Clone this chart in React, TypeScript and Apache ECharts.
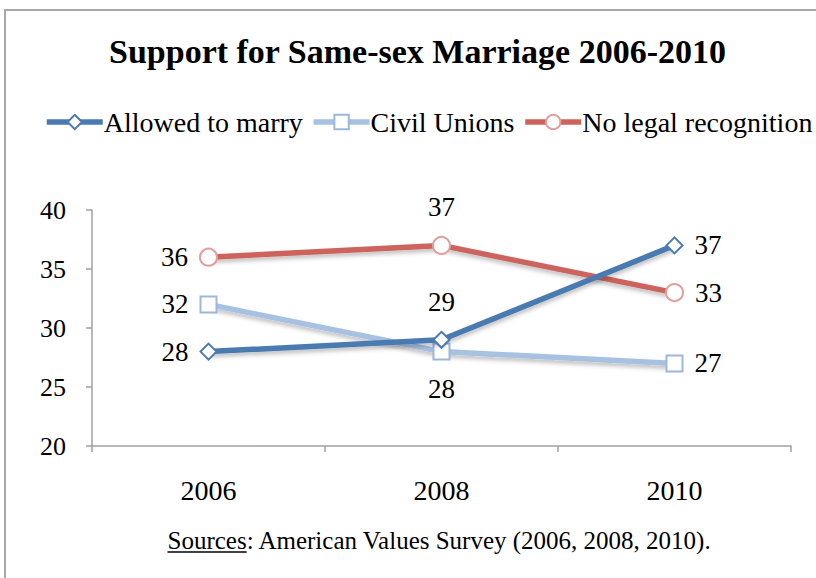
import React, { useEffect, useRef } from "react";
import * as echarts from "echarts";

const years = ["2006", "2008", "2010"];
const allowedToMarry = [28, 29, 37];
const civilUnions = [32, 28, 27];
const noLegalRecognition = [36, 37, 33];
const seriesNames = ["Allowed to marry", "Civil Unions", "No legal recognition"];
const titleText = "Support for Same-sex Marriage 2006-2010";
const sourceLabel = "Sources";
const sourceRest = ": American Values Survey (2006, 2008, 2010).";

const allowedPos = ["left", "top", "right"];
const civilPos = ["left", "bottom", "right"];
const noLegalPos = ["left", "top", "right"];

const FONT = "'Liberation Serif', serif";

function measure(text: string, font: string): number {
  const c = document.createElement("canvas").getContext("2d");
  if (!c) return text.length * 10;
  c.font = font;
  return c.measureText(text).width;
}

export default function App() {
  const ref = useRef<HTMLDivElement>(null);
  useEffect(() => {
    if (!ref.current) return;
    const chart = echarts.init(ref.current, undefined, { renderer: "svg" });
    const labelBase = {
      show: true,
      fontFamily: FONT,
      fontSize: 27,
      color: "#000",
    };
    const mk = (vals: number[], pos: string[]) =>
      vals.map((v, i) => ({
        value: v,
        label: {
          ...labelBase,
          position: pos[i],
          distance: pos[i] === "left" || pos[i] === "right" ? 11 : 15,
        },
      }));
    const shadow = {
      shadowColor: "rgba(0,0,0,0.25)",
      shadowBlur: 4,
      shadowOffsetY: 3,
    };
    const footFont = `25px ${FONT}`;
    const srcW = measure(sourceLabel, footFont);
    const restW = measure(sourceRest, footFont);
    const totalW = srcW + restW;
    const footX = 440 - totalW / 2;
    const footY = 540;

    chart.setOption({
      animation: false,
      backgroundColor: "#fff",
      title: {
        text: titleText,
        left: 104,
        top: 29,
        textStyle: {
          fontFamily: FONT,
          fontWeight: "bold",
          fontSize: 34,
          color: "#000",
        },
      },
      legend: {
        top: 108,
        left: 44,
        width: 772,
        padding: 0,
        itemWidth: 56,
        itemHeight: 18,
        itemGap: 8,
        lineStyle: { width: 5.5 },
        textStyle: { fontFamily: FONT, fontSize: 28, color: "#000", padding: [0, 0, 0, -4] },
        data: seriesNames,
      },
      grid: { left: 92, right: 25, top: 210, bottom: 132, containLabel: false },
      xAxis: {
        type: "category",
        data: years,
        boundaryGap: true,
        axisLine: { lineStyle: { color: "#a0a0a0", width: 1.5 } },
        axisTick: { show: true, length: 6, lineStyle: { color: "#a0a0a0", width: 1.5 } },
        axisLabel: { fontFamily: FONT, fontSize: 28, color: "#000", margin: 30 },
      },
      yAxis: {
        type: "value",
        min: 20,
        max: 40,
        interval: 5,
        splitLine: { show: false },
        axisLine: { show: true, lineStyle: { color: "#a0a0a0", width: 1.5 } },
        axisTick: { show: true, length: 6, lineStyle: { color: "#a0a0a0", width: 1.5 } },
        axisLabel: { fontFamily: FONT, fontSize: 26, color: "#000", margin: 26 },
      },
      series: [
        {
          name: seriesNames[0],
          type: "line",
          data: mk(allowedToMarry, allowedPos),
          symbol: "diamond",
          symbolSize: 16,
          lineStyle: { color: "#4a7ab0", width: 5.5, ...shadow },
          itemStyle: { color: "#fff", borderColor: "#4a7ab0", borderWidth: 2 },
          z: 3,
        },
        {
          name: seriesNames[1],
          type: "line",
          data: mk(civilUnions, civilPos),
          symbol: "rect",
          symbolSize: 16,
          lineStyle: { color: "#a7c1e1", width: 5.5, ...shadow },
          itemStyle: { color: "#fff", borderColor: "#9bb8dc", borderWidth: 2 },
          z: 2,
        },
        {
          name: seriesNames[2],
          type: "line",
          data: mk(noLegalRecognition, noLegalPos),
          symbol: "circle",
          symbolSize: 17,
          lineStyle: { color: "#cd635b", width: 5.5, ...shadow },
          itemStyle: { color: "#fff", borderColor: "#e39e9b", borderWidth: 2 },
          z: 2,
        },
      ],
      graphic: [
        {
          type: "rect",
          shape: { x: 5, y: 10, width: 830, height: 600 },
          style: { fill: "none", stroke: "#a8a8a8", lineWidth: 2 },
          silent: true,
        },
        {
          type: "text",
          x: footX,
          y: footY,
          style: {
            text: sourceLabel,
            font: footFont,
            fill: "#000",
            verticalAlign: "middle",
            textAlign: "left",
          },
        },
        {
          type: "text",
          x: footX + srcW,
          y: footY,
          style: {
            text: sourceRest,
            font: footFont,
            fill: "#000",
            verticalAlign: "middle",
            textAlign: "left",
          },
        },
        {
          type: "line",
          shape: { x1: footX, y1: footY + 12, x2: footX + srcW, y2: footY + 12 },
          style: { stroke: "#000", lineWidth: 1.5 },
        },
      ],
    });
    return () => chart.dispose();
  }, []);
  return <div ref={ref} style={{ width: 816, height: 578, position: "absolute", left: 0, top: 0 }} />;
}
